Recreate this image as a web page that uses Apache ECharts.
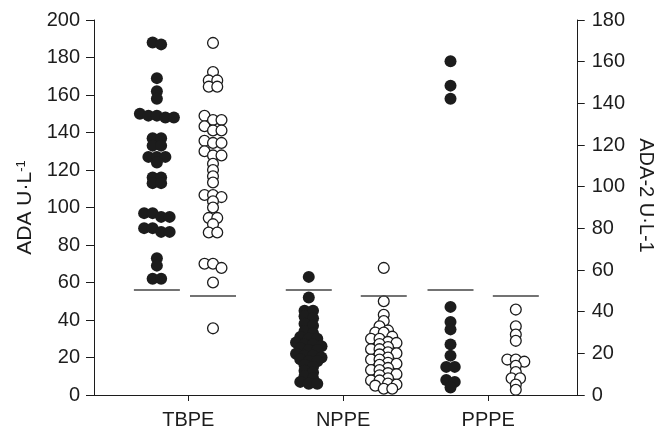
<!DOCTYPE html>
<html>
<head>
<meta charset="utf-8">
<script src="https://cdn.jsdelivr.net/npm/echarts@6/dist/echarts.min.js"></script>
<style>
  html, body { margin: 0; padding: 0; background: #ffffff; }
  #chart { width: 664px; height: 435px; }
</style>
</head>
<body>
<div id="chart"></div>
<script>
// Pleural effusion groups
const groups = ['TBPE', 'NPPE', 'PPPE'];

// ADA (U/L), left axis — filled dots
const adaTBPE = [188, 187, 169, 162, 158, 150, 149, 149, 148, 148, 137, 137, 133, 133,
  127, 127, 127, 124, 116, 116, 113, 113, 97, 97, 95, 95, 89, 89, 87, 87, 73, 69, 62, 62];
const adaNPPE = [63, 52, 45, 45, 42, 41, 38, 37, 34, 33, 31, 30, 30, 28, 27, 27, 26,
  25, 24, 24, 22, 21, 21, 20, 19, 18, 18, 16, 15, 13, 12, 10, 9, 7, 6, 6];
const adaPPPE = [178, 165, 158, 47, 39, 35, 27, 21, 15, 15, 8, 7, 4];

// ADA-2 (U/L), right axis — open circles
const ada2TBPE = [169, 155, 151, 151, 148, 148, 134, 132, 132, 129, 127, 127, 122, 121, 121,
  117, 115, 115, 111, 108, 105, 102, 96, 96, 95, 93, 90, 85, 85, 82, 78, 78, 63, 63, 61, 54, 32];
const ada2NPPE = [61, 45, 38.5, 35.5, 33, 31, 30, 30, 28, 27, 27, 25.5, 25, 24.5, 23, 22, 22,
  20.5, 20, 19.5, 18, 17, 17, 15.5, 15, 14.5, 13, 12, 12, 10.5, 10, 9.5, 8, 7, 7, 5.5, 5, 4.5, 3, 3];
const ada2PPPE = [41, 33, 29, 26, 17, 17, 16, 14, 11, 8, 8, 5, 2.5];

// Cut-off values
const adaCutoff = 56;
const ada2Cutoff = 47.5;

// Axis ranges
const adaAxis = { min: 0, max: 200, interval: 20 };
const ada2Axis = { min: 0, max: 180, interval: 20 };

// Horizontal layout (x axis runs 0–100 across the plot width)
const groupTickX = [19.5, 51.5, 81.5];
const filledColX = [13.0, 44.4, 73.7];
const openColX = [24.6, 59.9, 87.2];

const INK = '#1c1c1c';
const SPREAD = 8.5;      // px between side-by-side dots
const LINE_HALF = 23;    // px half-length of cut-off bars

// Group nearly equal values into rows; each row is spread sideways around the column centre
function swarm(values, colX, binSize) {
  const sorted = values.slice().sort((a, b) => b - a);
  const out = [];
  let i = 0;
  while (i < sorted.length) {
    let j = i;
    while (j < sorted.length && sorted[i] - sorted[j] <= binSize) j++;
    const n = j - i;
    for (let k = i; k < j; k++) out.push([colX, sorted[k], k - i, n]);
    i = j;
  }
  return out;
}

function dotRenderer(filled) {
  return function (params, api) {
    const p = api.coord([api.value(0), api.value(1)]);
    const n = api.value(3), r = api.value(2);
    const x = p[0] + (r - (n - 1) / 2) * SPREAD;
    return filled
      ? { type: 'circle', shape: { cx: x, cy: p[1], r: 6 }, style: { fill: INK } }
      : { type: 'circle', shape: { cx: x, cy: p[1], r: 5.4 }, style: { fill: '#ffffff', stroke: INK, lineWidth: 1.3 } };
  };
}

function cutoffRenderer(params, api) {
  const p = api.coord([api.value(0), api.value(1)]);
  return {
    type: 'line',
    shape: { x1: p[0] - LINE_HALF, y1: p[1], x2: p[0] + LINE_HALF, y2: p[1] },
    style: { stroke: '#444444', lineWidth: 1.6 }
  };
}

const adaSets = [adaTBPE, adaNPPE, adaPPPE];
const ada2Sets = [ada2TBPE, ada2NPPE, ada2PPPE];

const series = [];
adaSets.forEach((vals, g) => {
  series.push({
    type: 'custom', yAxisIndex: 0, renderItem: dotRenderer(true),
    encode: { x: 0, y: 1 }, clip: false,
    data: swarm(vals, filledColX[g], 2.7)
  });
});
ada2Sets.forEach((vals, g) => {
  series.push({
    type: 'custom', yAxisIndex: 1, renderItem: dotRenderer(false),
    encode: { x: 0, y: 1 }, clip: false,
    data: swarm(vals, openColX[g], 2.4)
  });
});
series.push({
  type: 'custom', yAxisIndex: 0, renderItem: cutoffRenderer, encode: { x: 0, y: 1 },
  data: filledColX.map(x => [x, adaCutoff])
});
series.push({
  type: 'custom', yAxisIndex: 1, renderItem: cutoffRenderer, encode: { x: 0, y: 1 },
  data: openColX.map(x => [x, ada2Cutoff])
});

const FONT = 'Liberation Sans, Arial, sans-serif';
const axisLine = { show: true, lineStyle: { color: INK, width: 1 } };

const chart = echarts.init(document.getElementById('chart'), null, { renderer: 'canvas' });
chart.setOption({
  animation: false,
  backgroundColor: '#ffffff',
  grid: { left: 94, right: 78, top: 20, bottom: 40 },
  xAxis: {
    type: 'value', min: 0, max: 100, offset: 6,
    axisLine: axisLine,
    axisTick: { show: true, customValues: groupTickX, length: 6, lineStyle: { color: INK } },
    axisLabel: {
      customValues: groupTickX,
      formatter: v => groups[groupTickX.indexOf(v)] || '',
      fontSize: 20, fontFamily: FONT, color: INK, margin: 9
    },
    splitLine: { show: false }
  },
  yAxis: [
    {
      type: 'value', position: 'left', min: adaAxis.min, max: adaAxis.max, interval: adaAxis.interval,
      axisLine: axisLine,
      axisTick: { show: true, length: 8, lineStyle: { color: INK } },
      axisLabel: { fontSize: 20, fontFamily: FONT, color: INK, margin: 14 },
      splitLine: { show: false },
      name: 'ADA U·L{sup|-1}', nameLocation: 'middle', nameRotate: 90, nameGap: 56,
      nameTextStyle: {
        fontSize: 21, fontFamily: FONT, color: INK,
        rich: { sup: { fontSize: 13, fontFamily: FONT, color: INK, verticalAlign: 'top', padding: [0, 0, 8, 0] } }
      }
    },
    {
      type: 'value', position: 'right', min: ada2Axis.min, max: ada2Axis.max, interval: ada2Axis.interval,
      axisLine: axisLine,
      axisTick: { show: true, length: 7, lineStyle: { color: INK } },
      axisLabel: { fontSize: 20, fontFamily: FONT, color: INK, margin: 14 },
      splitLine: { show: false },
      name: 'ADA-2 U·L-1', nameLocation: 'middle', nameRotate: -90, nameGap: 50,
      nameTextStyle: { fontSize: 20, fontFamily: FONT, color: INK, padding: [0, 24, 0, 0] }
    }
  ],
  series: series
});
</script>
</body>
</html>
